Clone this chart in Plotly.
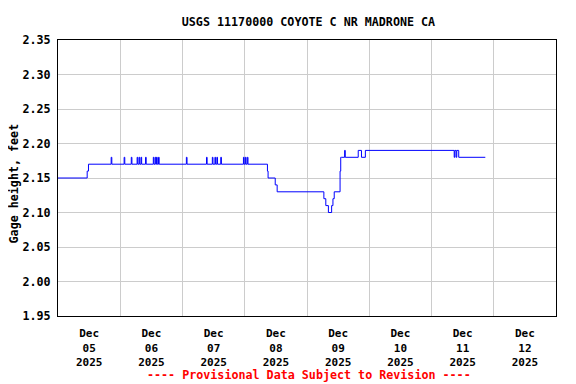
import plotly.graph_objects as go

# Change points of the stepped gage-height record (local time)
times = [
    "2025-12-05 00:00", "2025-12-05 11:15", "2025-12-05 11:45",
    "2025-12-05 20:30", "2025-12-05 20:45",
    "2025-12-06 01:30", "2025-12-06 01:45",
    "2025-12-06 04:15", "2025-12-06 04:30",
    "2025-12-06 06:30", "2025-12-06 06:45",
    "2025-12-06 07:15", "2025-12-06 07:30",
    "2025-12-06 08:00", "2025-12-06 08:15",
    "2025-12-06 09:45", "2025-12-06 10:00",
    "2025-12-06 12:45", "2025-12-06 13:00",
    "2025-12-06 13:30", "2025-12-06 13:45",
    "2025-12-06 14:00", "2025-12-06 14:15",
    "2025-12-06 14:45", "2025-12-06 15:00",
    "2025-12-07 01:30", "2025-12-07 01:45",
    "2025-12-07 09:15", "2025-12-07 09:30",
    "2025-12-07 11:30", "2025-12-07 11:45",
    "2025-12-07 12:30", "2025-12-07 12:45",
    "2025-12-07 13:15", "2025-12-07 13:30",
    "2025-12-07 14:45", "2025-12-07 15:00",
    "2025-12-07 23:30", "2025-12-07 23:45",
    "2025-12-08 00:15", "2025-12-08 00:30",
    "2025-12-08 01:00", "2025-12-08 01:15",
    "2025-12-08 08:45", "2025-12-08 09:00",
    "2025-12-08 11:45", "2025-12-08 12:30",
    "2025-12-09 06:30", "2025-12-09 07:15", "2025-12-09 08:15",
    "2025-12-09 09:30", "2025-12-09 10:00", "2025-12-09 10:30",
    "2025-12-09 12:45", "2025-12-09 13:00", "2025-12-09 13:15",
    "2025-12-09 14:30", "2025-12-09 14:45",
    "2025-12-09 19:45", "2025-12-09 21:00", "2025-12-09 22:30",
    "2025-12-11 08:45", "2025-12-11 09:00", "2025-12-11 09:30",
    "2025-12-11 09:45", "2025-12-11 10:30", "2025-12-11 20:45",
]
gage_ft = [
    2.15, 2.16, 2.17,
    2.18, 2.17,
    2.18, 2.17,
    2.18, 2.17,
    2.18, 2.17,
    2.18, 2.17,
    2.18, 2.17,
    2.18, 2.17,
    2.18, 2.17,
    2.18, 2.17,
    2.18, 2.17,
    2.18, 2.17,
    2.18, 2.17,
    2.18, 2.17,
    2.18, 2.17,
    2.18, 2.17,
    2.18, 2.17,
    2.18, 2.17,
    2.18, 2.17,
    2.18, 2.17,
    2.18, 2.17,
    2.16, 2.15,
    2.14, 2.13,
    2.12, 2.11, 2.10,
    2.11, 2.12, 2.13,
    2.16, 2.18, 2.18,
    2.19, 2.18,
    2.19, 2.18, 2.19,
    2.18, 2.19, 2.18,
    2.19, 2.18, 2.18,
]

day_labels = ["Dec<br>05<br>2025", "Dec<br>06<br>2025", "Dec<br>07<br>2025",
              "Dec<br>08<br>2025", "Dec<br>09<br>2025", "Dec<br>10<br>2025",
              "Dec<br>11<br>2025", "Dec<br>12<br>2025"]
day_noons = ["2025-12-05 12:00", "2025-12-06 12:00", "2025-12-07 12:00",
             "2025-12-08 12:00", "2025-12-09 12:00", "2025-12-10 12:00",
             "2025-12-11 12:00", "2025-12-12 12:00"]
day_midnights = ["2025-12-06", "2025-12-07", "2025-12-08", "2025-12-09",
                 "2025-12-10", "2025-12-11", "2025-12-12"]
y_ticks = [1.95, 2.00, 2.05, 2.10, 2.15, 2.20, 2.25, 2.30, 2.35]

FONT = "DejaVu Sans Mono"

fig = go.Figure()
fig.add_trace(go.Scatter(
    x=times, y=gage_ft, mode="lines", line=dict(color="#0000ff", width=1, shape="hv"),
    showlegend=False, hoverinfo="skip"))

# page body has an 8px margin, so the figure is 8px smaller to fit the window
fig.update_layout(
    width=568, height=376,
    margin=dict(l=50, r=20, t=32, b=68, autoexpand=False),
    paper_bgcolor="white", plot_bgcolor="white",
    font=dict(family=FONT, size=11.5, color="black"),
    title=dict(text="<b>USGS 11170000 COYOTE C NR MADRONE CA</b>",
               x=0.529, xanchor="center", y=0.962, yanchor="middle",
               font=dict(family=FONT, size=11.7, color="black")),
    annotations=[
        dict(text="<b>---- Provisional Data Subject to Revision ----</b>",
             xref="paper", yref="paper", x=0.505, y=-0.214,
             xanchor="center", yanchor="middle", showarrow=False,
             font=dict(family=FONT, size=11.7, color="#ff0000")),
        dict(text="<b>Gage height, feet</b>", textangle=-90,
             xref="paper", yref="paper", x=-0.0894, y=0.482,
             xanchor="center", yanchor="middle", showarrow=False,
             font=dict(family=FONT, size=11.7, color="black")),
    ],
)

fig.update_xaxes(
    type="date", range=["2025-12-05 00:00", "2025-12-13 00:00"],
    tickmode="array", tickvals=day_noons, ticktext=[f"<b>{t}</b>" for t in day_labels],
    showgrid=False, ticks="", zeroline=False, ticklabelstandoff=7,
    tickfont=dict(family=FONT, size=11, color="black"),
    showline=True, linecolor="black", linewidth=1, mirror=True,
    minor=dict(tickmode="array", tickvals=day_midnights, showgrid=True,
               gridcolor="#cccccc", gridwidth=1, ticks=""),
)
fig.update_yaxes(
    range=[1.95, 2.35], tickmode="array", tickvals=y_ticks,
    ticktext=[f"<b>{v:.2f}</b>" for v in y_ticks],
    showgrid=True, gridcolor="#cccccc", gridwidth=1, ticks="", zeroline=False,
    ticklabelstandoff=4,
    tickfont=dict(family=FONT, size=11.7, color="black"),
    showline=True, linecolor="black", linewidth=1, mirror=True,
)

fig.write_html("out.html")
